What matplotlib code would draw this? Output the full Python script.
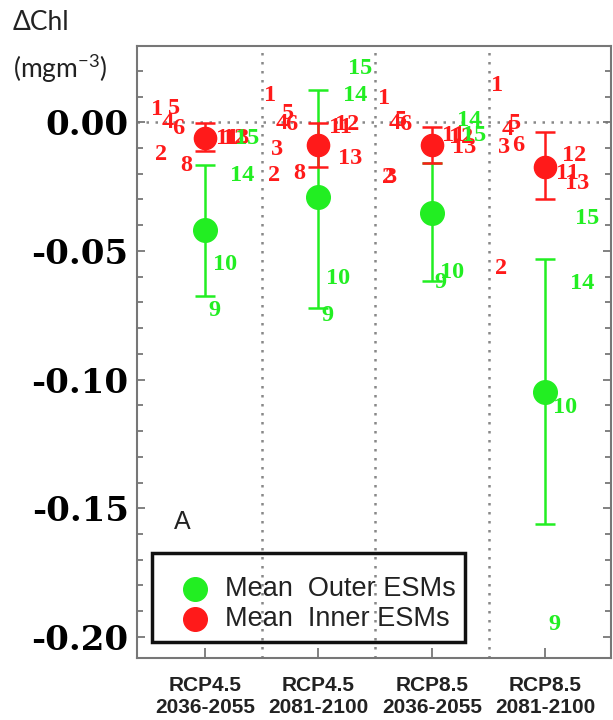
import numpy as np
import matplotlib
matplotlib.use("Agg")
import matplotlib.pyplot as plt
from matplotlib.patches import Rectangle
from matplotlib.ticker import MultipleLocator

# ---------------- data ----------------
groups = ["RCP4.5\n2036-2055", "RCP4.5\n2081-2100", "RCP8.5\n2036-2055", "RCP8.5\n2081-2100"]

outer_mean = [-0.042, -0.029, -0.0354, -0.105]
outer_hi = [-0.0167, 0.0124, -0.016, -0.0533]
outer_lo = [-0.0677, -0.072, -0.0615, -0.156]

inner_mean = [-0.006, -0.0089, -0.0089, -0.0175]
inner_hi = [-0.0004, -0.0004, -0.0019, -0.0039]
inner_lo = [-0.011, -0.0175, -0.016, -0.030]

inner_models = [1, 2, 3, 4, 5, 6, 8, 11, 12, 13]
inner_vals = [
    [0.005, -0.0124, np.nan, 0.0, 0.0054, -0.0023, -0.0167, -0.0062, -0.0062, -0.0062],
    [0.0105, -0.0206, -0.0105, -0.0004, 0.0035, -0.001, -0.0198, -0.0019, -0.001, -0.014],
    [0.0093, -0.0214, -0.0214, -0.0004, 0.0008, -0.001, np.nan, -0.005, -0.0058, -0.0097],
    [0.0144, -0.0568, -0.0097, -0.003, -0.0004, -0.009, np.nan, -0.0198, -0.0128, -0.0237],
]

outer_models = [9, 10, 14, 15]
outer_vals = [
    [-0.073, -0.0552, -0.0206, -0.0062],
    [-0.075, -0.0607, 0.0105, 0.021],
    [-0.0622, -0.0584, 0.0008, -0.005],
    [-0.195, -0.111, -0.0626, -0.0373],
]

yticks = [0.00, -0.05, -0.10, -0.15, -0.20]
legend_labels = ["Mean  Outer ESMs", "Mean  Inner ESMs"]

# ---------------- styling ----------------
GREEN = "#22ee22"
RED = "#ff1a1a"
label_dx = {1: -0.424, 2: -0.388, 3: -0.362, 4: -0.327, 5: -0.27, 6: -0.238, 8: -0.168,
            9: 0.079, 10: 0.177, 11: 0.194, 12: 0.256, 13: 0.282, 14: 0.327, 15: 0.371}

fig = plt.figure(figsize=(6.13, 7.2), dpi=100)
ax = fig.add_axes([0.2235, 0.0861, 0.9967 - 0.2235, 0.936 - 0.0861])

x = np.arange(1, len(groups) + 1)
ax.set_xlim(0.4, 4.58)
ax.set_ylim(-0.2082, 0.0296)

# dotted guides
ax.axhline(0, color="#888888", lw=1.8, ls=(0, (1, 2.6)), zorder=1)
for xb in x[:-1] + 0.5:
    ax.axvline(xb, color="#888888", lw=1.8, ls=(0, (1, 2.6)), zorder=1)

# outer (green) error bars
om = np.array(outer_mean)
ax.errorbar(x, om, yerr=[om - np.array(outer_lo), np.array(outer_hi) - om],
            fmt="o", color=GREEN, ms=17, elinewidth=1.8, capsize=7, capthick=1.8, zorder=3)
im = np.array(inner_mean)
ax.errorbar(x, im, yerr=[im - np.array(inner_lo), np.array(inner_hi) - im],
            fmt="o", color=RED, ms=16, elinewidth=1.8, capsize=7, capthick=1.8, zorder=4)

lab_font = dict(family="Liberation Serif", weight="bold", fontsize=17.5, ha="center", va="center")
for gi, xc in enumerate(x):
    for m, v in zip(inner_models, inner_vals[gi]):
        if np.isfinite(v):
            ax.text(xc + label_dx[m], v, str(m), color=RED, zorder=5, **lab_font)
    for m, v in zip(outer_models, outer_vals[gi]):
        if np.isfinite(v):
            ax.text(xc + label_dx[m], v, str(m), color=GREEN, zorder=5, **lab_font)

# axes styling
for s in ax.spines.values():
    s.set_color("#777777")
    s.set_linewidth(1.5)
ax.set_yticks(yticks)
ax.set_yticklabels([f"{t:.2f}" for t in yticks], family="DejaVu Serif", weight="bold", fontsize=24.5)
ax.yaxis.set_minor_locator(MultipleLocator(0.01))
ax.tick_params(axis="y", which="both", direction="in", right=True, left=True, color="#777777")
ax.tick_params(axis="y", which="major", length=6, width=1.3, pad=6)
ax.tick_params(axis="y", which="minor", length=4, width=1.3)
ax.set_xticks(x)
ax.set_xticklabels(groups, family="Liberation Sans", weight="bold", fontsize=15, color="#222222",
                   linespacing=1.2)
ax.tick_params(axis="x", direction="in", length=7, width=1.3, color="#777777", pad=13, top=False)

# panel letter
ax.text(0.095, 0.222, "A", transform=ax.transAxes, fontsize=18, family="Liberation Sans",
        color="#222222", ha="center", va="center")

# legend (manual)
ax.add_patch(Rectangle((0.031, 0.026), 0.66, 0.145, transform=ax.transAxes, fill=False,
                       ec="#111111", lw=2.5, zorder=6))
for yy, c, t in [(0.112, GREEN, legend_labels[0]), (0.064, RED, legend_labels[1])]:
    ax.plot([0.122], [yy], "o", color=c, ms=17, transform=ax.transAxes, zorder=7, clip_on=False)
    ax.text(0.186, yy, t, transform=ax.transAxes, fontsize=19.5, family="Liberation Sans",
            color="#222222", ha="left", va="center", zorder=7)

# y-axis title
fig.text(13 / 613, 1 - 23 / 720, "ΔChl", fontsize=19, family="Lato", color="#222222",
         ha="left", va="center")
fig.text(13 / 613, 1 - 68 / 720, "(mgm$^{\\mathregular{-3}}$)", fontsize=19, family="Lato",
         color="#222222", ha="left", va="center")

fig.savefig("out.png", dpi=100)
